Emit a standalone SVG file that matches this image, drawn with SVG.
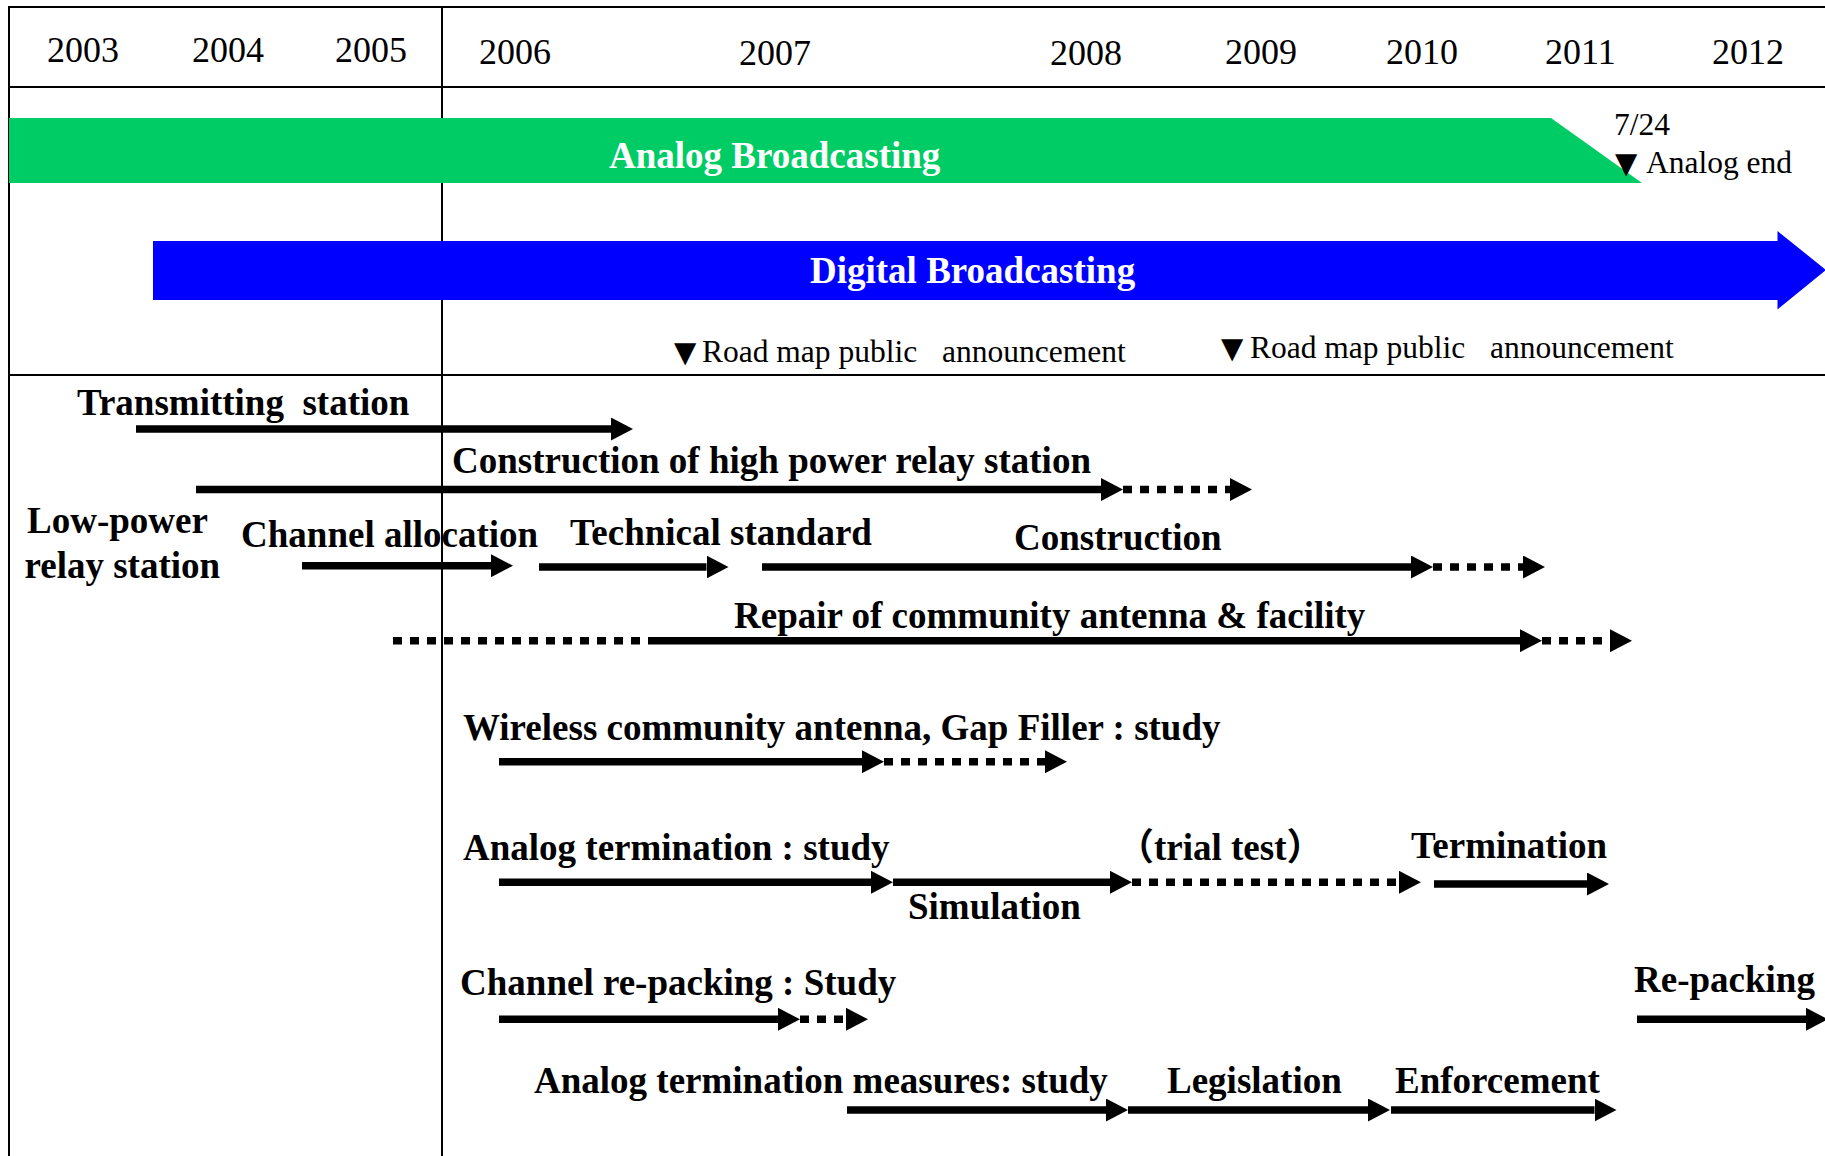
<svg xmlns="http://www.w3.org/2000/svg" width="1825" height="1156" viewBox="0 0 1825 1156">
  <defs>
    <style>
      .frame{stroke:#000;stroke-width:2;fill:none}
      .yr{font-family:'Liberation Serif','Times New Roman',serif;font-size:36px;fill:#000}
      .note{font-family:'Liberation Serif','DejaVu Sans',serif;font-size:31.5px;fill:#000}
      .tri{font-family:'DejaVu Sans',sans-serif;font-size:29px}
      .lbl{font-family:'Liberation Serif','Noto Sans CJK JP',serif;font-weight:bold;font-size:37px;fill:#000}
      .band{font-family:'Liberation Serif',serif;font-weight:bold;font-size:37px;fill:#fff}
      .s{stroke:#000;stroke-width:7.5;fill:none;marker-end:url(#ah)}
      .d{stroke:#000;stroke-width:7.5;fill:none;stroke-dasharray:9 8;marker-end:url(#ah)}
      .dn{stroke:#000;stroke-width:7.5;fill:none;stroke-dasharray:9 8}
    </style>
    <marker id="ah" markerUnits="userSpaceOnUse" viewBox="0 0 22 23" markerWidth="22" markerHeight="23" refX="0" refY="11.5" orient="auto">
      <path d="M0,0L22,11.5L0,23Z" fill="#000"/>
    </marker>
  </defs>

  <rect x="0" y="0" width="1825" height="1156" fill="#fff"/>

  <!-- table frame -->
  <g id="frame" class="frame">
    <line x1="8" y1="7" x2="1825" y2="7"/>
    <line x1="8" y1="87" x2="1825" y2="87"/>
    <line x1="8" y1="375" x2="1825" y2="375"/>
    <line x1="9" y1="6" x2="9" y2="1156"/>
    <line x1="442" y1="6" x2="442" y2="1156"/>
  </g>

  <!-- year header -->
  <g id="years" class="yr">
    <text x="47" y="62">2003</text>
    <text x="192" y="62">2004</text>
    <text x="335" y="62">2005</text>
    <text x="479" y="64">2006</text>
    <text x="739" y="65">2007</text>
    <text x="1050" y="65">2008</text>
    <text x="1225" y="64">2009</text>
    <text x="1386" y="64">2010</text>
    <text x="1545" y="64">2011</text>
    <text x="1712" y="64">2012</text>
  </g>

  <!-- analog band -->
  <g id="analog-band">
    <polygon points="9,118 1551,118 1642,183 9,183" fill="#00cc66"/>
    <text class="band" x="609" y="168">Analog Broadcasting</text>
  </g>
  <g id="analog-end" class="note">
    <text x="1614" y="135">7/24</text>
    <text y="173"><tspan class="tri" x="1615">▼</tspan><tspan x="1646">Analog end</tspan></text>
  </g>

  <!-- digital band -->
  <g id="digital-band">
    <polygon points="153,241 1777.5,241 1777.5,231 1826,270 1777.5,309.5 1777.5,300 153,300" fill="#0000ff"/>
    <text class="band" x="810" y="283">Digital Broadcasting</text>
  </g>

  <g id="roadmap-1" class="note">
    <text y="362"><tspan class="tri" x="674">▼</tspan><tspan x="702">Road map public</tspan><tspan x="942">announcement</tspan></text>
  </g>
  <g id="roadmap-2" class="note">
    <text y="358"><tspan class="tri" x="1221">▼</tspan><tspan x="1250">Road map public</tspan><tspan x="1490">announcement</tspan></text>
  </g>

  <!-- activity bars -->
  <g id="connectors">
    <path class="s" d="M136,429H611"/>
    <path class="s" d="M196,489.5H1101"/>
    <path class="d" d="M1123,489.5H1230"/>
    <path class="s" d="M302,565.7H491"/>
    <path class="s" d="M539,567H706.5"/>
    <path class="s" d="M762,567H1411"/>
    <path class="d" d="M1433,567H1523"/>
    <path class="dn" d="M393,640.7H649"/>
    <path class="s" d="M649,640.7H1520"/>
    <path class="d" d="M1542,640.7H1610"/>
    <path class="s" d="M499,761.7H862"/>
    <path class="d" d="M884,761.7H1045"/>
    <path class="s" d="M499,882.3H871"/>
    <path class="s" d="M893,882.3H1110"/>
    <path class="d" d="M1132,882.3H1399"/>
    <path class="s" d="M1434,884H1587"/>
    <path class="s" d="M499,1019.3H778"/>
    <path class="d" d="M800,1019.3H846"/>
    <path class="s" d="M1637,1019.3H1806"/>
    <path class="s" d="M847,1110H1106"/>
    <path class="s" d="M1128,1110H1368"/>
    <path class="s" d="M1391,1110H1594.5"/>
  </g>

  <!-- activity labels -->
  <g id="transmitting-station"><text class="lbl" x="77" y="415" xml:space="preserve">Transmitting  station</text></g>
  <g id="high-power-relay"><text class="lbl" x="452" y="473">Construction of high power relay station</text></g>
  <g id="low-power-relay">
    <text class="lbl" x="27" y="533">Low-power</text>
    <text class="lbl" x="24.5" y="578">relay station</text>
  </g>
  <g id="channel-allocation"><text class="lbl" x="241" y="547">Channel allocation</text></g>
  <g id="technical-standard"><text class="lbl" x="570" y="545">Technical standard</text></g>
  <g id="construction"><text class="lbl" x="1014" y="550">Construction</text></g>
  <g id="repair"><text class="lbl" x="734" y="628">Repair of community antenna &amp; facility</text></g>
  <g id="wireless"><text class="lbl" x="463" y="740">Wireless community antenna, Gap Filler : study</text></g>
  <g id="analog-termination"><text class="lbl" x="463" y="860">Analog termination : study</text></g>
  <g id="simulation"><text class="lbl" x="908" y="919">Simulation</text></g>
  <g id="trial-test"><text class="lbl" x="1117" y="860">（trial test）</text></g>
  <g id="termination"><text class="lbl" x="1411" y="858">Termination</text></g>
  <g id="repacking-study"><text class="lbl" x="460" y="995">Channel re-packing : Study</text></g>
  <g id="repacking"><text class="lbl" x="1634" y="992">Re-packing</text></g>
  <g id="measures-study"><text class="lbl" x="534" y="1093">Analog termination measures: study</text></g>
  <g id="legislation"><text class="lbl" x="1167" y="1093">Legislation</text></g>
  <g id="enforcement"><text class="lbl" x="1395" y="1093">Enforcement</text></g>
</svg>
